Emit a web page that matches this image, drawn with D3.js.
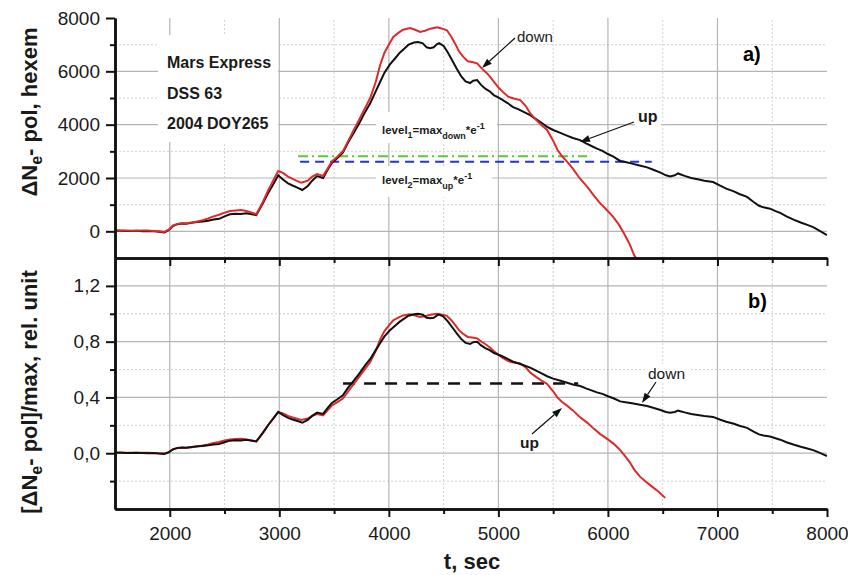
<!DOCTYPE html>
<html>
<head>
<meta charset="utf-8">
<title>Mars Express DSS 63 2004 DOY265</title>
<script src="https://d3js.org/d3.v7.min.js"></script>
<style>
  body { margin: 0; background: #fff; }
  text { font-family: "Liberation Sans", Arial, sans-serif; }
</style>
</head>
<body>
<script>
// "up" curve (black in a), hexem
var upSeries = [[1500,20],[1550,25],[1600,10],[1650,15],[1700,20],[1750,5],[1800,0],[1850,10],[1900,-20],[1950,-40],[1990,40],[2030,200],[2070,270],[2110,290],[2150,280],[2200,320],[2250,350],[2300,370],[2350,400],[2400,440],[2450,470],[2500,560],[2550,640],[2600,660],[2650,650],[2700,680],[2750,640],[2790,610],[2850,1050],[2900,1450],[2950,1800],[2990,2100],[3030,1950],[3080,1800],[3120,1720],[3160,1650],[3210,1550],[3260,1700],[3300,1900],[3345,2070],[3400,2000],[3440,2300],[3480,2560],[3530,2750],[3580,2950],[3630,3350],[3680,3700],[3730,4050],[3780,4450],[3830,4800],[3880,5250],[3920,5600],[3960,5950],[4010,6260],[4060,6500],[4100,6700],[4140,6850],[4180,7000],[4230,7080],[4267,7100],[4310,7050],[4345,6900],[4377,6870],[4410,6900],[4440,7020],[4460,7060],[4500,6950],[4540,6700],[4580,6400],[4620,6100],[4660,5820],[4700,5620],[4742,5560],[4770,5650],[4806,5670],[4840,5500],[4880,5350],[4920,5250],[4960,5100],[4990,5040],[5030,4950],[5080,4820],[5134,4660],[5180,4580],[5230,4480],[5290,4360],[5340,4220],[5390,4080],[5445,3920],[5500,3800],[5560,3700],[5620,3600],[5680,3500],[5747,3420],[5800,3300],[5850,3200],[5900,3100],[5950,3020],[6000,2900],[6050,2800],[6112,2640],[6160,2600],[6220,2540],[6280,2480],[6358,2400],[6420,2300],[6480,2200],[6530,2100],[6568,2060],[6610,2100],[6640,2170],[6660,2140],[6700,2080],[6760,2000],[6820,1950],[6880,1900],[6960,1850],[7020,1720],[7080,1600],[7150,1500],[7200,1400],[7270,1290],[7330,1100],[7380,960],[7420,900],[7480,850],[7530,760],[7573,690],[7630,560],[7700,430],[7760,330],[7820,240],[7874,160],[7930,30],[8000,-140]];

// "down" curve (red in a), hexem
var downSeries = [[1500,40],[1550,35],[1600,30],[1650,20],[1700,25],[1750,30],[1800,30],[1850,15],[1900,0],[1950,-20],[1990,60],[2030,220],[2070,280],[2110,300],[2150,300],[2200,330],[2250,370],[2300,420],[2350,480],[2400,560],[2450,620],[2500,700],[2550,760],[2600,780],[2650,800],[2700,760],[2750,700],[2790,640],[2850,1100],[2900,1550],[2950,1950],[2990,2260],[3030,2200],[3080,2050],[3130,1950],[3200,1820],[3260,1900],[3300,2050],[3345,2150],[3400,2080],[3440,2350],[3480,2620],[3530,2800],[3580,3000],[3630,3400],[3680,3800],[3730,4200],[3780,4600],[3830,5000],[3880,5600],[3920,6230],[3960,6700],[4000,7000],[4040,7290],[4090,7450],[4130,7560],[4194,7620],[4240,7560],[4285,7480],[4330,7520],[4380,7600],[4440,7650],[4490,7600],[4530,7540],[4570,7300],[4610,7000],[4640,6750],[4680,6540],[4720,6380],[4760,6350],[4806,6300],[4850,6100],[4890,5950],[4925,5790],[4960,5600],[5000,5400],[5043,5220],[5090,5050],[5140,4980],[5200,4920],[5250,4700],[5290,4430],[5340,4200],[5390,4000],[5445,3800],[5500,3400],[5540,3050],[5582,2814],[5627,2612],[5680,2350],[5740,2000],[5810,1680],[5870,1350],[5930,1050],[5990,800],[6048,540],[6100,250],[6150,-100],[6200,-500],[6240,-900],[6295,-1300],[6350,-1580],[6400,-1820],[6460,-2100],[6523,-2450]];

var xMajor = [2000, 3000, 4000, 5000, 6000, 7000, 8000];
var xMinor = [2500, 3500, 4500, 5500, 6500, 7500];
var topMajor = [0, 2000, 4000, 6000, 8000];
var topMinor = [1000, 3000, 5000, 7000];
var botMajor = [0, 0.4, 0.8, 1.2];
var botMinor = [-0.2, 0.2, 0.6, 1.0];

var level1Span = [3171, 5810];   // max_down * e^-1
var level2Span = [3190, 6400];   // max_up * e^-1
var halfSpan = [3582, 5728];
var halfLevel = 0.5;

var upMax = d3.max(upSeries, function(d) { return d[1]; });
var downMax = d3.max(downSeries, function(d) { return d[1]; });

var svg = d3.select('body').append('svg')
  .attr('width', 848)
  .attr('height', 575);

var x = d3.scaleLinear().domain([1500, 8000]).range([115, 827]);
var yTop = d3.scaleLinear().domain([-1000, 8000]).range([258, 18]);
var yBot = d3.scaleLinear().domain([-0.4, 1.4]).range([509, 258]);

svg.append('clipPath').attr('id', 'clipTop')
  .append('rect').attr('x', 115).attr('y', 18).attr('width', 712).attr('height', 240);
svg.append('clipPath').attr('id', 'clipBot')
  .append('rect').attr('x', 115).attr('y', 258).attr('width', 712).attr('height', 251);

// grid
function grid(y, major, minor, y0, y1) {
  var g = svg.append('g');
  g.selectAll('.hmaj').data(major.filter(function(d) { return y(d) > y1 + 2; }))
    .enter().append('line')
    .attr('x1', 115).attr('x2', 827)
    .attr('y1', function(d) { return y(d); }).attr('y2', function(d) { return y(d); })
    .attr('stroke', '#b5b5b5').attr('stroke-width', 1.2);
  g.selectAll('.hmin').data(minor)
    .enter().append('line')
    .attr('x1', 115).attr('x2', 827)
    .attr('y1', function(d) { return y(d); }).attr('y2', function(d) { return y(d); })
    .attr('stroke', '#d2d2d2').attr('stroke-width', 1).attr('stroke-dasharray', '2,2');
  g.selectAll('.vmaj').data(xMajor.filter(function(d) { return d < 8000; }))
    .enter().append('line')
    .attr('x1', function(d) { return x(d); }).attr('x2', function(d) { return x(d); })
    .attr('y1', y0).attr('y2', y1)
    .attr('stroke', '#b5b5b5').attr('stroke-width', 1.2);
  g.selectAll('.vmin').data(xMinor)
    .enter().append('line')
    .attr('x1', function(d) { return x(d); }).attr('x2', function(d) { return x(d); })
    .attr('y1', y0).attr('y2', y1)
    .attr('stroke', '#d2d2d2').attr('stroke-width', 1).attr('stroke-dasharray', '2,2');
}
grid(yTop, topMajor, topMinor, 258, 18);
grid(yBot, botMajor, botMinor, 509, 258);

// white boxes behind the text blocks
var boxes = [[158, 35, 120, 107], [376, 112, 121, 31], [376, 166, 116, 31], [635, 108, 26, 20], [645, 364, 44, 18]];
svg.selectAll('.box').data(boxes).enter().append('rect')
  .attr('x', function(d) { return d[0]; }).attr('y', function(d) { return d[1]; })
  .attr('width', function(d) { return d[2]; }).attr('height', function(d) { return d[3]; })
  .attr('fill', '#fff');

// e^-1 levels
svg.append('line')
  .attr('x1', x(level1Span[0])).attr('x2', x(level1Span[1]))
  .attr('y1', yTop(downMax / Math.E)).attr('y2', yTop(downMax / Math.E))
  .attr('stroke', '#55cc33').attr('stroke-width', 2).attr('stroke-dasharray', '10,4,2,4');
svg.append('line')
  .attr('x1', x(level2Span[0])).attr('x2', x(level2Span[1]))
  .attr('y1', yTop(upMax / Math.E)).attr('y2', yTop(upMax / Math.E))
  .attr('stroke', '#2233dd').attr('stroke-width', 2).attr('stroke-dasharray', '9,6');
svg.append('line')
  .attr('x1', x(halfSpan[0])).attr('x2', x(halfSpan[1]))
  .attr('y1', yBot(halfLevel)).attr('y2', yBot(halfLevel))
  .attr('stroke', '#111').attr('stroke-width', 2.5).attr('stroke-dasharray', '12,9');

// curves
var lineTop = d3.line().x(function(d) { return x(d[0]); }).y(function(d) { return yTop(d[1]); });
var gTop = svg.append('g').attr('clip-path', 'url(#clipTop)');
gTop.append('path').attr('d', lineTop(upSeries))
  .attr('fill', 'none').attr('stroke', '#111').attr('stroke-width', 2);
gTop.append('path').attr('d', lineTop(downSeries))
  .attr('fill', 'none').attr('stroke', '#dd2a2a').attr('stroke-width', 2);

var gBot = svg.append('g').attr('clip-path', 'url(#clipBot)');
var lineUpN = d3.line().x(function(d) { return x(d[0]); }).y(function(d) { return yBot(d[1] / upMax); });
var lineDownN = d3.line().x(function(d) { return x(d[0]); }).y(function(d) { return yBot(d[1] / downMax); });
gBot.append('path').attr('d', lineDownN(downSeries))
  .attr('fill', 'none').attr('stroke', '#dd2a2a').attr('stroke-width', 2);
gBot.append('path').attr('d', lineUpN(upSeries))
  .attr('fill', 'none').attr('stroke', '#111').attr('stroke-width', 2);

// axes
function styleAxis(g) {
  g.attr('font-family', '"Liberation Sans", Arial, sans-serif').attr('font-size', 19);
  g.select('.domain').attr('stroke', '#111').attr('stroke-width', 2.5);
  g.selectAll('.tick line').attr('stroke', '#111').attr('stroke-width', 2);
  g.selectAll('.tick text').attr('fill', '#1a1a1a');
}
var comma = function(d) { return d3.format('.1f')(d).replace('.', ','); };

svg.append('g').attr('transform', 'translate(115,0)')
  .call(d3.axisLeft(yTop).tickValues(topMinor).tickSize(5).tickSizeOuter(0).tickFormat(''))
  .call(styleAxis);
svg.append('g').attr('transform', 'translate(115,0)')
  .call(d3.axisLeft(yTop).tickValues(topMajor).tickSize(9).tickPadding(6).tickSizeOuter(0).tickFormat(d3.format('d')))
  .call(styleAxis);
svg.append('g').attr('transform', 'translate(115,0)')
  .call(d3.axisLeft(yBot).tickValues(botMinor).tickSize(5).tickSizeOuter(0).tickFormat(''))
  .call(styleAxis);
svg.append('g').attr('transform', 'translate(115,0)')
  .call(d3.axisLeft(yBot).tickValues(botMajor).tickSize(9).tickPadding(6).tickSizeOuter(0).tickFormat(comma))
  .call(styleAxis);

[258, 509].forEach(function(yy) {
  svg.append('g').attr('transform', 'translate(0,' + yy + ')')
    .call(d3.axisBottom(x).tickValues(xMinor).tickSize(5).tickSizeOuter(0).tickFormat(''))
    .call(styleAxis);
  svg.append('g').attr('transform', 'translate(0,' + yy + ')')
    .call(d3.axisBottom(x).tickValues(xMajor).tickSize(8).tickPadding(10).tickSizeOuter(0)
      .tickFormat(yy === 509 ? d3.format('d') : ''))
    .call(styleAxis);
});

// axis titles
var t1 = svg.append('text').attr('transform', 'translate(37,112) rotate(-90)')
  .attr('text-anchor', 'middle').attr('font-size', 22).attr('font-weight', 'bold').attr('fill', '#1a1a1a');
t1.append('tspan').text('\u0394N');
t1.append('tspan').attr('font-size', 16).attr('dy', 5).text('e');
t1.append('tspan').attr('dy', -5).text('- pol, hexem');

var t2 = svg.append('text').attr('transform', 'translate(37,392) rotate(-90)')
  .attr('text-anchor', 'middle').attr('font-size', 22).attr('font-weight', 'bold').attr('fill', '#1a1a1a');
t2.append('tspan').text('[\u0394N');
t2.append('tspan').attr('font-size', 16).attr('dy', 5).text('e');
t2.append('tspan').attr('dy', -5).text('- pol]/max, rel. unit');

svg.append('text').attr('x', 472).attr('y', 569).attr('text-anchor', 'middle')
  .attr('font-size', 22).attr('font-weight', 'bold').attr('fill', '#1a1a1a').text('t, sec');

// info block
var info = ['Mars Express', 'DSS 63', '2004 DOY265'];
svg.selectAll('.info').data(info).enter().append('text')
  .attr('x', 167).attr('y', function(d, i) { return 68 + i * 30.5; })
  .attr('font-size', 16).attr('font-weight', 'bold').attr('fill', '#1a1a1a')
  .text(function(d) { return d; });

// panel letters
svg.append('text').attr('x', 743).attr('y', 61).attr('font-size', 20).attr('font-weight', 'bold').text('a)');
svg.append('text').attr('x', 748).attr('y', 308).attr('font-size', 20).attr('font-weight', 'bold').text('b)');

// level labels
function levelLabel(x0, y0, idx, who) {
  var t = svg.append('text').attr('x', x0).attr('y', y0)
    .attr('font-size', 11.5).attr('font-weight', 'bold').attr('fill', '#1a1a1a');
  t.append('tspan').text('level');
  t.append('tspan').attr('font-size', 9).attr('dy', 4).text(idx);
  t.append('tspan').attr('dy', -4).text('=max');
  t.append('tspan').attr('font-size', 9).attr('dy', 5).text(who);
  t.append('tspan').attr('dy', -5).text('*e');
  t.append('tspan').attr('font-size', 9).attr('dy', -5).text('-1');
}
levelLabel(382, 134, '1', 'down');
levelLabel(382, 184, '2', 'up');

// arrow annotations
function arrow(x1, y1, x2, y2) {
  var a = Math.atan2(y2 - y1, x2 - x1), L = 10, W = 3.5;
  var bx = x2 - L * Math.cos(a), by = y2 - L * Math.sin(a);
  svg.append('line').attr('x1', x1).attr('y1', y1).attr('x2', bx).attr('y2', by)
    .attr('stroke', '#111').attr('stroke-width', 1.2);
  svg.append('path')
    .attr('d', 'M' + x2 + ',' + y2 +
      'L' + (bx + W * Math.sin(a)) + ',' + (by - W * Math.cos(a)) +
      'L' + (bx - W * Math.sin(a)) + ',' + (by + W * Math.cos(a)) + 'Z')
    .attr('fill', '#111');
}
arrow(515, 38, 482, 68);
arrow(634, 122, 580, 142);
arrow(656, 382, 642, 403);
arrow(532, 434, 562, 408);

svg.append('text').attr('x', 517).attr('y', 42).attr('font-size', 15).attr('fill', '#1a1a1a').text('down');
svg.append('text').attr('x', 638).attr('y', 122).attr('font-size', 16).attr('font-weight', 'bold').attr('fill', '#1a1a1a').text('up');
svg.append('text').attr('x', 648).attr('y', 379).attr('font-size', 15.5).attr('fill', '#1a1a1a').text('down');
svg.append('text').attr('x', 520).attr('y', 448).attr('font-size', 15.5).attr('font-weight', 'bold').attr('fill', '#1a1a1a').text('up');
</script>
</body>
</html>
